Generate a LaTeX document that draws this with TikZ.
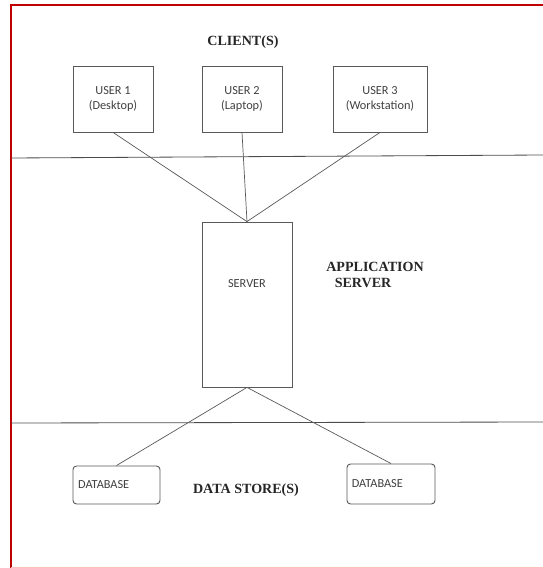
\documentclass[tikz,border=0pt]{standalone}
\usepackage{fontspec}
\setmainfont{Liberation Serif}
\newfontfamily\boxfont{Carlito}
\usepackage{tikz}
\usetikzlibrary{positioning}
\tikzset{%
  userblock/.style={rectangle, draw=black!65, line width=0.7pt, align=center, font=\boxfont\fontsize{10.5}{13}\selectfont, text=black!75, minimum height=1.98cm},
  serverblock/.style={rectangle, draw=black!65, line width=0.7pt, font=\boxfont\fontsize{10.5}{13}\selectfont, text=black!75, minimum width=2.7cm, minimum height=4.95cm, text depth=36pt},
  dbblock/.style={rectangle, rounded corners=3pt, draw=black!65, line width=0.8pt, align=left, font=\boxfont\fontsize{10.5}{13}\selectfont, text=black!75, inner xsep=0pt},
  title/.style={font=\bfseries\fontsize{12}{14}\selectfont, text=black!85, align=left},
  line/.style={draw=black!65, line width=0.6pt},
  divider/.style={draw=black!70, line width=0.7pt}}
\begin{document}
\begin{tikzpicture}[x=0.03cm, y=-0.03cm]
  \useasboundingbox (0,0) rectangle (543,568);
  % page frame
  \draw [red!75!black, line width=1pt] (11,568) -- (11,5) -- (543,5);
  \draw [red!25, line width=0.8pt] (11,567) -- (543,567);

  % clients
  \node [title] (clients) at (243,42) {CLIENT(S)};
  \node [userblock, minimum width=2.4cm] (user1) at (113,99) {USER 1\\(Desktop)};
  \node [userblock, minimum width=2.4cm] (user2) at (242,99) {USER 2\\(Laptop)};
  \node [userblock, minimum width=2.82cm] (user3) at (380,99) {USER 3\\(Workstation)};

  % tiers
  \coordinate (topleft) at (11,158);
  \coordinate (topright) at (543,155);
  \coordinate (botleft) at (11,423);
  \coordinate (botright) at (543,422);
  \path [divider] (topleft) -- (topright);
  \path [divider] (botleft) -- (botright);

  % server
  \node [serverblock] (server) at (247,304.5) {SERVER};
  \node [title] (appserver) at (375,275) {APPLICATION\\\hspace*{0.6em}SERVER};

  % data stores
  \node [dbblock, minimum width=2.61cm, minimum height=1.14cm, text width=2.3cm] (db1) at (116.5,485) {DATABASE};
  \node [dbblock, minimum width=2.64cm, minimum height=1.2cm, text width=2.35cm] (db2) at (391,484) {DATABASE};
  \node [title] (stores) at (246,490) {DATA STORE(S)};

  \foreach \u in {user1, user2, user3} {
    \path [line] (\u.south) -- (server.north);
  }
  \foreach \d in {db1, db2} {
    \path [line] (server.south) -- (\d.north);
  }
\end{tikzpicture}
\end{document}
